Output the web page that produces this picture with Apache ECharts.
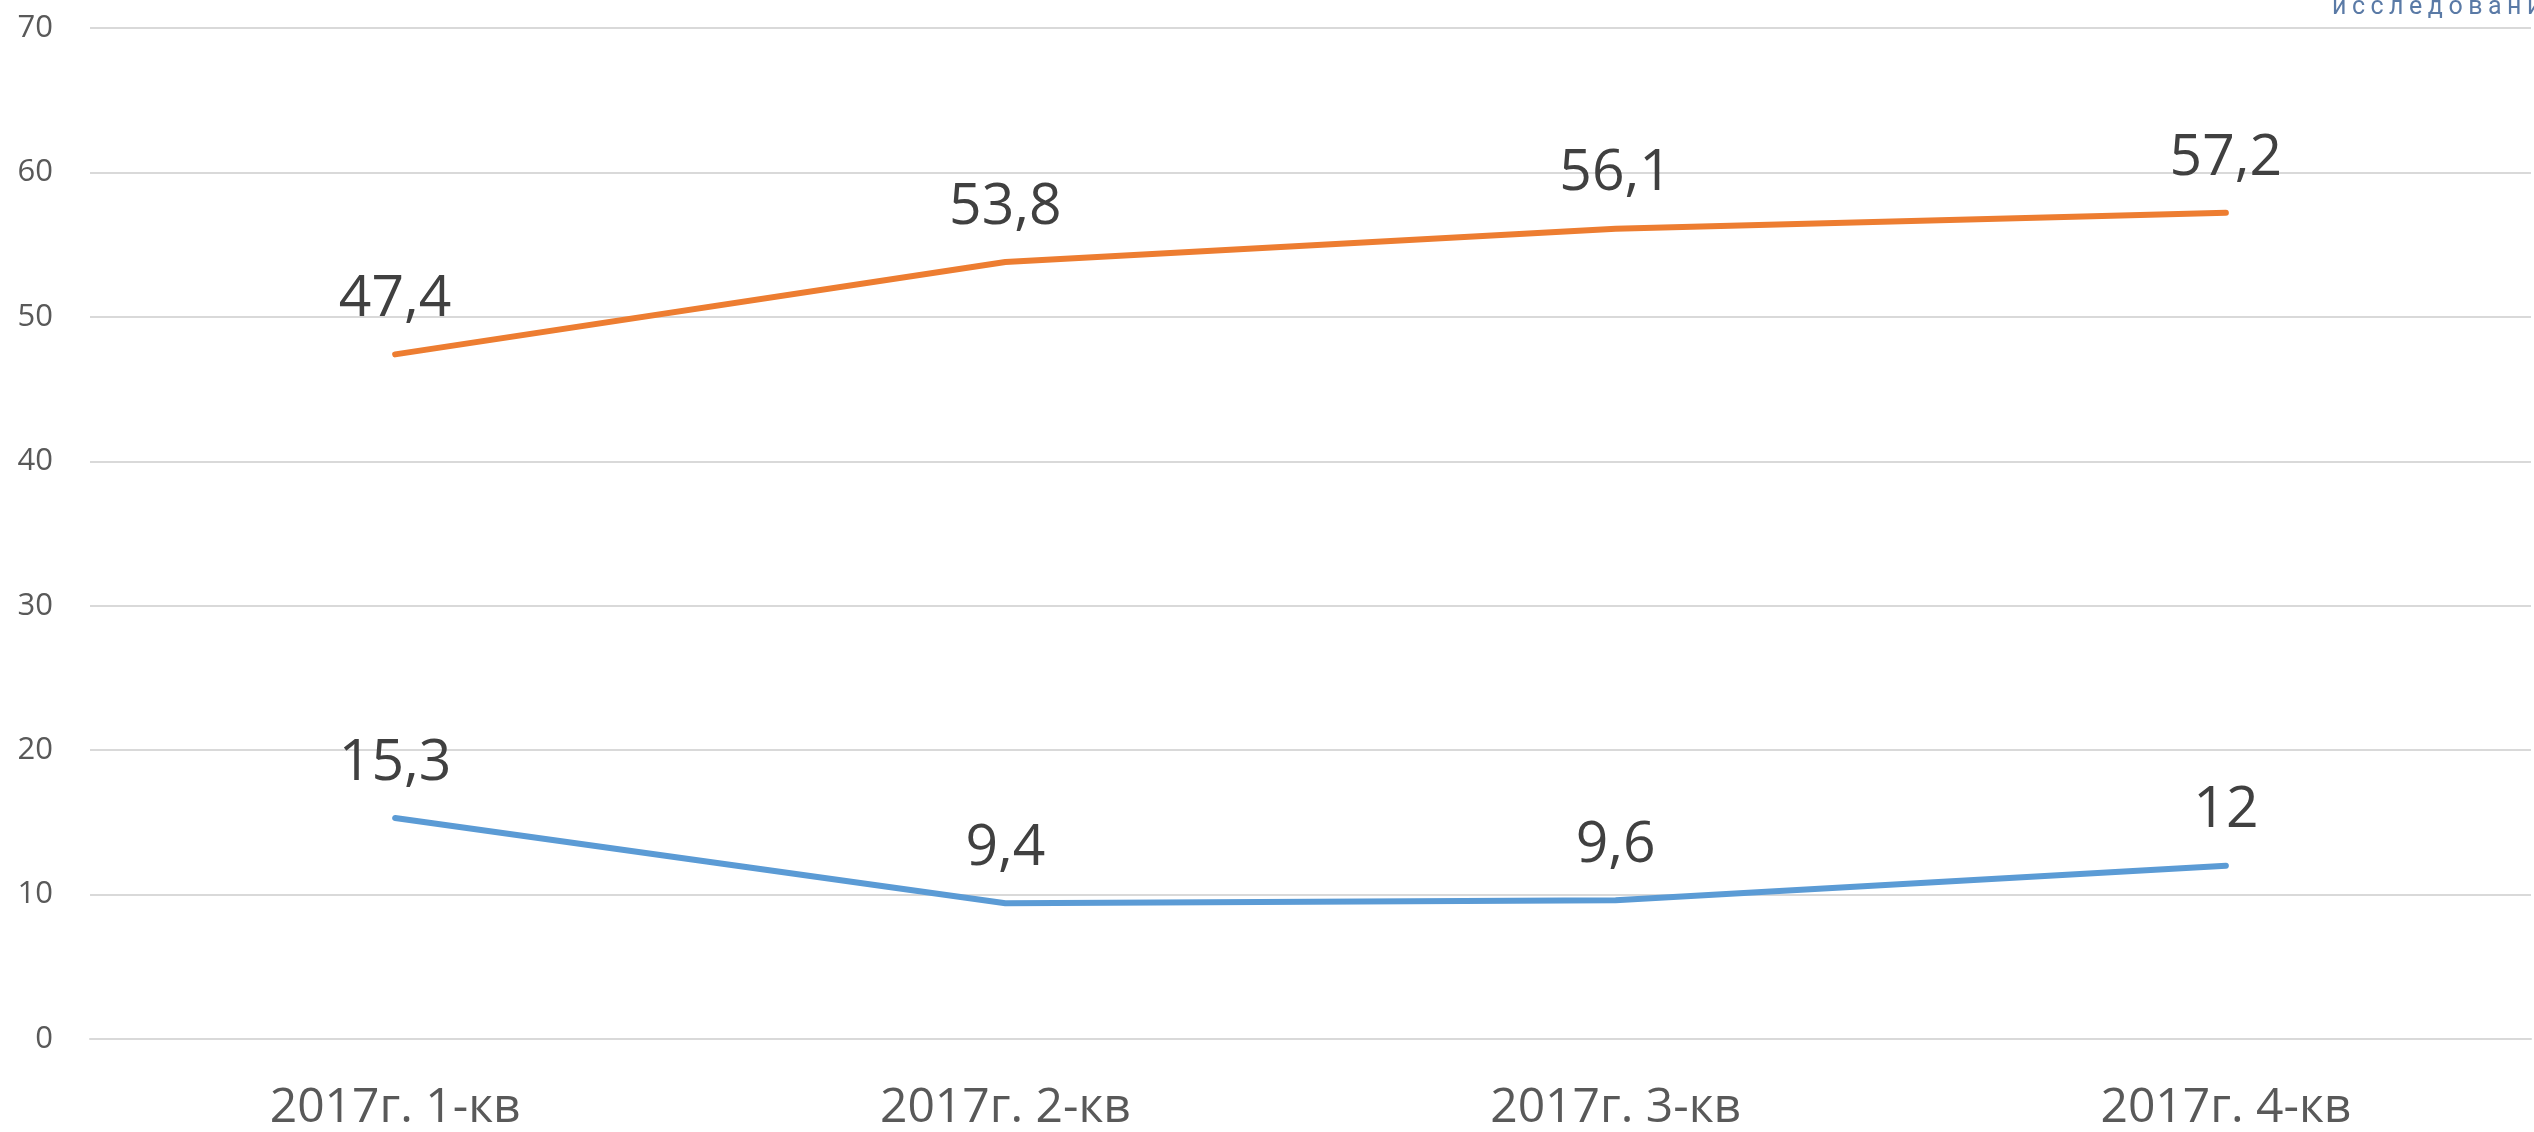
<!DOCTYPE html>
<html>
<head>
<meta charset="utf-8">
<title>2017</title>
<script src="https://cdn.jsdelivr.net/npm/echarts@6/dist/echarts.min.js"></script>
<style>
  html, body { margin: 0; padding: 0; background: #ffffff; overflow: hidden; }
  #chart { width: 2534px; height: 1132px; }
  .watermark {
    position: absolute;
    top: -7px;
    left: 2332px;
    font-family: Roboto, 'Open Sans', sans-serif;
    font-size: 25px;
    line-height: 25px;
    letter-spacing: 5.5px;
    color: #5a7aa6;
    white-space: nowrap;
  }
</style>
</head>
<body>
<div id="chart"></div>
<div class="watermark">исследований</div>
<script>
const categories = ['2017г. 1-кв', '2017г. 2-кв', '2017г. 3-кв', '2017г. 4-кв'];
const orangeValues = [47.4, 53.8, 56.1, 57.2];
const blueValues = [15.3, 9.4, 9.6, 12];

const chart = echarts.init(document.getElementById('chart'));

// значения с запятой, как в оригинале
const fmtComma = (p) => String(p.value).replace('.', ',');

const makeSeries = (data, color) => ({
  type: 'line',
  data: data,
  symbol: 'circle',
  symbolSize: 0.1,
  itemStyle: { color: color },
  lineStyle: { color: color, width: 6, cap: 'round', join: 'round' },
  label: {
    show: true,
    position: 'top',
    distance: 26,
    formatter: fmtComma,
    fontFamily: 'Open Sans',
    fontSize: 57,
    color: '#404040'
  },
  silent: true,
  animation: false
});

chart.setOption({
  animation: false,
  grid: { left: 90, right: 3, top: 28, bottom: 92 },
  xAxis: {
    type: 'category',
    data: categories,
    boundaryGap: true,
    axisLine: { show: true, lineStyle: { color: '#d9d9d9', width: 2 } },
    axisTick: { show: false },
    axisLabel: {
      fontFamily: 'Open Sans',
      fontSize: 48,
      color: '#595959',
      margin: 45
    }
  },
  yAxis: {
    type: 'value',
    min: 0,
    max: 70,
    interval: 10,
    axisLine: { show: false },
    axisTick: { show: false },
    splitLine: { lineStyle: { color: '#d9d9d9', width: 2 } },
    axisLabel: {
      fontFamily: 'Open Sans',
      fontSize: 31,
      color: '#595959',
      margin: 37
    }
  },
  series: [
    makeSeries(orangeValues, '#ed7d31'),
    makeSeries(blueValues, '#5b9bd5')
  ]
});
</script>
</body>
</html>
